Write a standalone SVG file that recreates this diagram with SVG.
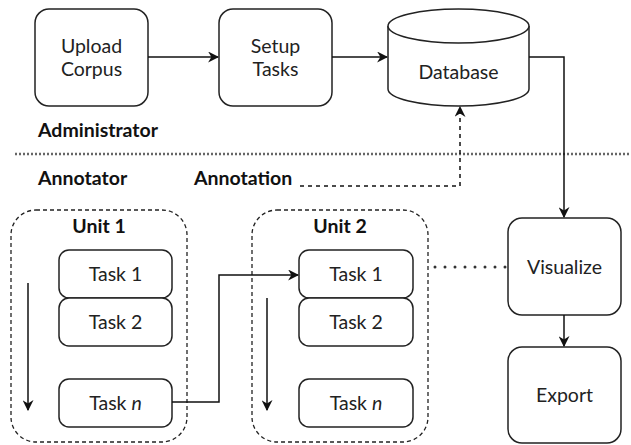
<svg xmlns="http://www.w3.org/2000/svg" width="631" height="445" viewBox="0 0 631 445">
<defs>
<style>
.box{fill:#fff;stroke:#222;stroke-width:1.5}
.unit{fill:none;stroke:#222;stroke-width:1.3;stroke-dasharray:4 3}
.t{font-family:Lato,"Noto Sans",sans-serif;font-size:19.5px;fill:#222;text-anchor:middle}
.b{font-family:Lato,"Noto Sans",sans-serif;font-size:19.5px;font-weight:bold;fill:#111}
.c{fill:none;stroke:#111;stroke-width:1.5}
</style>
<marker id="ahl" viewBox="0 0 10 10" refX="9" refY="5" markerWidth="11" markerHeight="11" markerUnits="userSpaceOnUse" orient="auto">
<path d="M0,0 L10,5 L0,10 L3,5 z" fill="#111"/>
</marker>
</defs>
<rect width="631" height="445" fill="#fff"/>
<g id="labels">
<text class="b" x="38" y="137">Administrator</text>
<text class="b" x="38" y="185">Annotator</text>
<text class="b" x="194" y="185">Annotation</text>
</g>
<line x1="15" y1="154" x2="631" y2="154" stroke="#666" stroke-width="2.5" stroke-dasharray="2 2"/>
<g id="upload">
<rect class="box" x="35" y="9" width="113" height="97" rx="14"/>
<text class="t" x="91.5" y="53">Upload</text>
<text class="t" x="91.5" y="76">Corpus</text>
</g>
<g id="setup">
<rect class="box" x="219" y="9" width="113" height="97" rx="14"/>
<text class="t" x="275.5" y="53">Setup</text>
<text class="t" x="275.5" y="76">Tasks</text>
</g>
<g id="database">
<path class="box" d="M388,26 A70.5,17 0 0 1 529,26 L529,89 A70.5,17 0 0 1 388,89 Z"/>
<path class="box" fill="none" d="M388,26 A70.5,17 0 0 0 529,26"/>
<text class="t" x="458.5" y="79">Database</text>
</g>
<g id="unit1">
<rect class="unit" x="11" y="210" width="176" height="232" rx="25"/>
<text class="b" x="99" y="233" text-anchor="middle">Unit 1</text>
</g>
<g id="unit2">
<rect class="unit" x="252" y="210" width="176" height="232" rx="25"/>
<text class="b" x="340" y="233" text-anchor="middle">Unit 2</text>
</g>
<g id="u1task1"><rect class="box" x="59" y="250" width="113" height="48" rx="10"/><text class="t" x="115.5" y="281">Task 1</text></g>
<g id="u1task2"><rect class="box" x="59" y="298" width="113" height="48" rx="10"/><text class="t" x="115.5" y="329">Task 2</text></g>
<g id="u1taskn"><rect class="box" x="59" y="379" width="113" height="48" rx="10"/><text class="t" x="115.5" y="410">Task <tspan font-style="italic">n</tspan></text></g>
<g id="u2task1"><rect class="box" x="299" y="250" width="114" height="48" rx="10"/><text class="t" x="356" y="281">Task 1</text></g>
<g id="u2task2"><rect class="box" x="299" y="298" width="114" height="48" rx="10"/><text class="t" x="356" y="329">Task 2</text></g>
<g id="u2taskn"><rect class="box" x="299" y="379" width="114" height="48" rx="10"/><text class="t" x="356" y="410">Task <tspan font-style="italic">n</tspan></text></g>
<g id="visualize"><rect class="box" x="508" y="218" width="113" height="97" rx="14"/><text class="t" x="564.5" y="274">Visualize</text></g>
<g id="export"><rect class="box" x="508" y="347" width="113" height="96" rx="14"/><text class="t" x="564.5" y="402">Export</text></g>
<g id="connectors">
<path class="c" d="M148,57 L218,57" marker-end="url(#ahl)"/>
<path class="c" d="M332,57 L387,57" marker-end="url(#ahl)"/>
<path class="c" d="M529,57 L564,57 L564,217" marker-end="url(#ahl)"/>
<path class="c" d="M564,315 L564,346" marker-end="url(#ahl)"/>
<path class="c" d="M300,186 L460,186 L460,107" stroke-dasharray="4 4" marker-end="url(#ahl)"/>
<path class="c" d="M28,283 L28,410" marker-end="url(#ahl)"/>
<path class="c" d="M267,298 L267,410" marker-end="url(#ahl)"/>
<path class="c" d="M172,402 L219,402 L219,275 L298,275" marker-end="url(#ahl)"/>
<path d="M435,267 L506,267" fill="none" stroke="#333" stroke-width="3" stroke-linecap="round" stroke-dasharray="0 10"/>
</g>
</svg>
